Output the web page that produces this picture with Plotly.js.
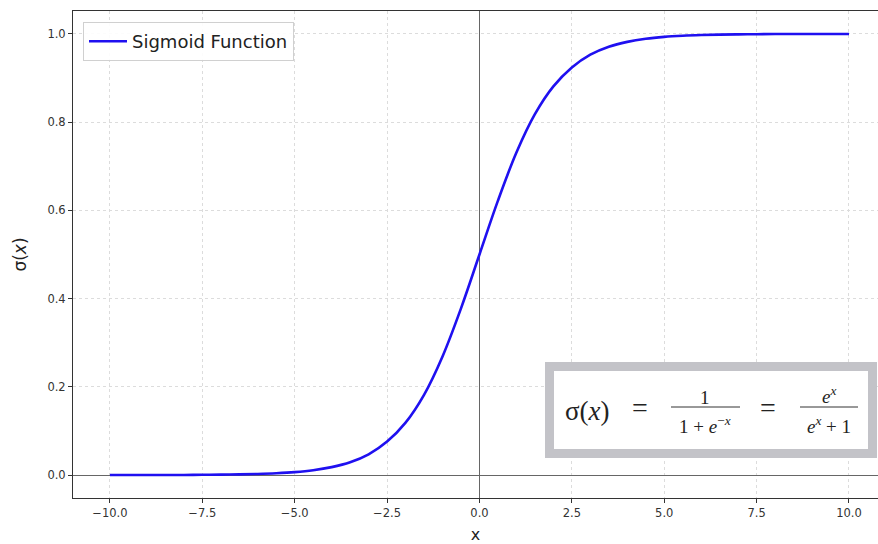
<!DOCTYPE html>
<html><head><meta charset="utf-8">
<script src="https://cdn.plot.ly/plotly-3.0.1.min.js"></script>
<style>html,body{margin:0;padding:0;background:#fff}#chart{width:878px;height:544px}</style>
</head><body><div id="chart"></div>
<script>
// Values
const xValues = [-10,-9.5,-9,-8.5,-8,-7.5,-7,-6.5,-6,-5.5,-5,-4.5,-4,-3.5,-3,-2.5,-2,-1.5,-1,-0.5,0,0.5,1,1.5,2,2.5,3,3.5,4,4.5,5,5.5,6,6.5,7,7.5,8,8.5,9,9.5,10];
const sigmaValues = [0.00005,0.00007,0.0001,0.0002,0.0003,0.0006,0.0009,0.0015,0.0025,0.0041,0.0067,0.011,0.018,0.029,0.047,0.076,0.119,0.182,0.269,0.378,0.500,0.622,0.731,0.818,0.881,0.924,0.953,0.971,0.982,0.989,0.9933,0.9959,0.9975,0.9985,0.9991,0.9994,0.9997,0.9998,0.9999,0.99993,0.99995];
const seriesName = "Sigmoid Function";
const xTicks = [-10,-7.5,-5,-2.5,0,2.5,5,7.5,10];
const xTickText = ["\u221210.0","\u22127.5","\u22125.0","\u22122.5","0.0","2.5","5.0","7.5","10.0"];
const yTicks = [0,0.2,0.4,0.6,0.8,1.0];
const yTickText = ["0.0","0.2","0.4","0.6","0.8","1.0"];

const L=73, T=11, W=805, H=487;
const px = v => (v-L)/W;
const py = v => (T+H-v)/H;
const serif = "Liberation Serif, DejaVu Serif, serif";

const trace = {
  x: xValues, y: sigmaValues, type:'scatter', mode:'lines', name: seriesName,
  line:{color:'#1f10f0', width:2.6, shape:'spline', smoothing:1}
};

const ann = [];
function t(text, x, y, size){ ann.push({text, x:px(x), y:py(y), xref:'paper', yref:'paper', showarrow:false, xanchor:'center', yanchor:'middle', font:{family:serif, size:size, color:'#222'}}); }
t("σ(<i>x</i>)", 587, 411, 27);
t("=", 640, 407, 28);
t("1", 705, 397, 19);
t("1 + <i>e</i><sup>−<i>x</i></sup>", 705, 425, 19);
t("=", 768, 407, 28);
t("<i>e</i><sup><i>x</i></sup>", 829, 395, 19);
t("<i>e</i><sup><i>x</i></sup> + 1", 829, 425, 19);

const shapes = [
  {type:'rect', xref:'paper', yref:'paper', x0:px(549.5), x1:px(872.5), y0:py(453.5), y1:py(366.5), line:{color:'#c3c3c8', width:9}, fillcolor:'#ffffff', layer:'above'},
  {type:'line', xref:'paper', yref:'paper', x0:px(671), x1:px(740), y0:py(407), y1:py(407), line:{color:'#333', width:1}, layer:'above'},
  {type:'line', xref:'paper', yref:'paper', x0:px(800), x1:px(858), y0:py(407), y1:py(407), line:{color:'#333', width:1}, layer:'above'}
];

const layout = {
  width:878, height:544,
  margin:{l:L, r:0, t:T, b:544-T-H},
  paper_bgcolor:'#fff', plot_bgcolor:'#fff',
  font:{family:'DejaVu Sans, sans-serif', size:11.5, color:'#333'},
  showlegend:true,
  legend:{x:px(83), y:py(22), xanchor:'left', yanchor:'top', bgcolor:'rgba(255,255,255,0.9)', bordercolor:'#d0d0d0', borderwidth:1, itemwidth:38, font:{size:18, color:'#222', family:'DejaVu Sans, sans-serif'}},
  xaxis:{range:[-11,10.785], tickvals:xTicks, ticktext:xTickText, ticks:'outside', ticklen:4, tickcolor:'#333',
    showline:true, linecolor:'#333', linewidth:1, mirror:true,
    zeroline:true, zerolinecolor:'#666', zerolinewidth:1,
    showgrid:true, gridcolor:'#dcdcdc', griddash:'3px,3px', gridwidth:1,
    title:{text:'x', font:{size:16, color:'#222'}, standoff:12}},
  yaxis:{range:[-0.052,1.052], tickvals:yTicks, ticktext:yTickText, ticks:'outside', ticklen:4, tickcolor:'#333',
    showline:true, linecolor:'#333', linewidth:1, mirror:true,
    zeroline:true, zerolinecolor:'#666', zerolinewidth:1,
    showgrid:true, gridcolor:'#dcdcdc', griddash:'3px,3px', gridwidth:1,
    title:{text:'σ(<i>x</i>)', font:{size:17, color:'#222'}, standoff:16}},
  annotations: ann,
  shapes: shapes
};
Plotly.newPlot('chart',[trace],layout,{displayModeBar:false, staticPlot:true});
</script></body></html>
